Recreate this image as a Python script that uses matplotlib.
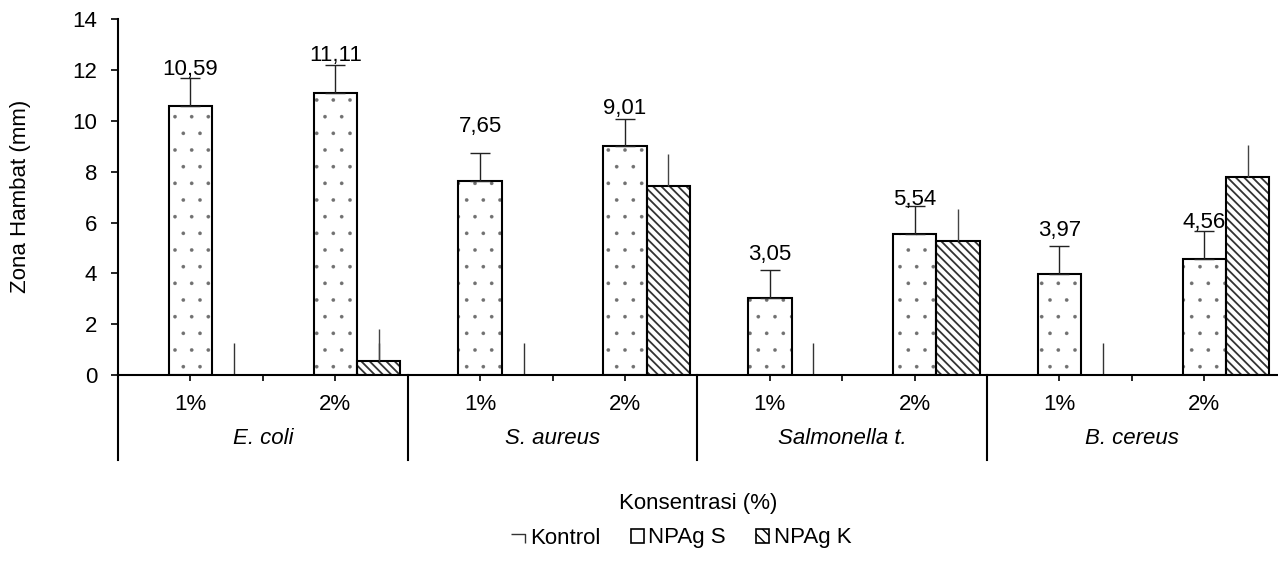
import matplotlib
matplotlib.use("Agg")
import matplotlib.pyplot as plt
import numpy as np
from matplotlib.lines import Line2D
from matplotlib.patches import Patch
from matplotlib.path import Path

plt.rcParams['font.family'] = ['Liberation Sans', 'DejaVu Sans']

# ---- data ----
conc_labels = ['1%', '2%', '1%', '2%', '1%', '2%', '1%', '2%']
bacteria = ['E. coli', 'S. aureus', 'Salmonella t.', 'B. cereus']
npag_s = [10.59, 11.11, 7.65, 9.01, 3.05, 5.54, 3.97, 4.56]
npag_s_err = [1.08, 1.11, 1.07, 1.06, 1.10, 1.10, 1.09, 1.10]
npag_k = [np.nan, 0.55, np.nan, 7.42, np.nan, 5.28, np.nan, 7.80]
npag_k_err = [0, 1.25, 0, 1.26, 0, 1.25, 0, 1.27]
kontrol = [0, 0, 0, 0, 0, 0, 0, 0]
kontrol_err = [1.25, 1.25, 1.25, 1.25, 1.25, 1.25, 1.25, 1.25]
label_text = ['10,59', '11,11', '7,65', '9,01', '3,05', '5,54', '3,97', '4,56']
label_y = [12.04, 12.59, 9.78, 10.5, 4.74, 6.9, 5.69, 6.01]

FS = 16
W, H = 1278, 567
fig = plt.figure(figsize=(W / 100, H / 100), dpi=100)
ax = fig.add_axes([118 / W, 1 - 375 / H, 1 - 118 / W - 0.001, (375 - 19.3) / H])

x = np.arange(len(conc_labels))
bw = 0.3

# Kontrol (zero bars with error lines) at right slot
ax.errorbar(x + bw, kontrol, yerr=[np.zeros(8), kontrol_err], fmt='none',
            ecolor='#333333', elinewidth=1.0, capsize=0, zorder=1)

# NPAg S: dotted hatch layer + outline
with plt.rc_context({'hatch.linewidth': 0.2}):
    ax.bar(x, npag_s, width=bw, color='white', edgecolor='#707070', linewidth=0,
           hatch='.', zorder=2)
ax.bar(x, npag_s, width=bw, fill=False, edgecolor='black', linewidth=1.5, zorder=3)
ax.errorbar(x, npag_s, yerr=[np.zeros(8), npag_s_err], fmt='none',
            ecolor='#222222', elinewidth=1.0, capsize=7, capthick=1.0, zorder=4)

# NPAg K: diagonal hatch
with plt.rc_context({'hatch.linewidth': 1.3}):
    ax.bar(x + bw, npag_k, width=bw, color='white', edgecolor='#333333', linewidth=0,
           hatch='\\\\\\\\', zorder=2)
ax.bar(x + bw, npag_k, width=bw, fill=False, edgecolor='black', linewidth=1.5, zorder=3)
ax.errorbar(x + bw, npag_k, yerr=[np.zeros(8), npag_k_err], fmt='none',
            ecolor='#444444', elinewidth=1.0, capsize=0, zorder=4)

# value labels
for xi, t, ly in zip(x, label_text, label_y):
    ax.text(xi, ly, t, ha='center', va='center', fontsize=FS, zorder=5)

ax.set_xlim(-0.5, len(conc_labels) - 0.5)
ax.set_ylim(0, 14)
ax.set_yticks(np.arange(0, 15, 2))
ax.tick_params(axis='y', direction='out', length=5, width=1.2, pad=10, labelsize=FS)
ax.set_xticks(x)
ax.set_xticklabels(conc_labels)
ax.set_xticks([0.5, 2.5, 4.5, 6.5], minor=True)
ax.tick_params(axis='x', which='both', direction='out', length=4, width=1.2,
               pad=10, labelsize=FS)
for s in ['top', 'right']:
    ax.spines[s].set_visible(False)
for s in ['left', 'bottom']:
    ax.spines[s].set_linewidth(1.5)

# multi-level axis separators
trans = ax.get_xaxis_transform()
ext = -(460 - 375) / 355.7
for sx in [-0.5, 1.5, 3.5, 5.5]:
    ax.plot([sx, sx], [0, ext], transform=trans, color='black', lw=1.5, clip_on=False)
for gi, name in enumerate(bacteria):
    ax.text(2 * gi + 0.5, -(438 - 375) / 355.7, name, transform=trans,
            ha='center', va='center', fontsize=FS, style='italic')

fig.text(698 / W, 1 - 503 / H, 'Konsentrasi (%)', ha='center', va='center', fontsize=FS)
fig.text(21 / W, 1 - 196 / H, 'Zona Hambat (mm)', ha='center', va='center',
         rotation=90, fontsize=FS)

# legend
kpath = Path([(-1, 0.3), (0.7, 0.3), (0.7, -0.8)],
             [Path.MOVETO, Path.LINETO, Path.LINETO])
handles = [
    Line2D([], [], linestyle='none', marker=kpath, markersize=12,
           markeredgecolor='#333333', markerfacecolor='none', markeredgewidth=1.0),
    Patch(facecolor='white', edgecolor='black', linewidth=1.2),
    Patch(facecolor='white', edgecolor='black', linewidth=1.2, hatch='\\\\\\'),
]
fig.legend(handles, ['Kontrol', 'NPAg S', 'NPAg K'], ncol=3, loc='center',
           bbox_to_anchor=(682 / W, 1 - 538 / H), frameon=False, fontsize=FS,
           handlelength=0.6, handleheight=0.6, handletextpad=0.2,
           columnspacing=1.35)

fig.savefig('out.png', dpi=100)
